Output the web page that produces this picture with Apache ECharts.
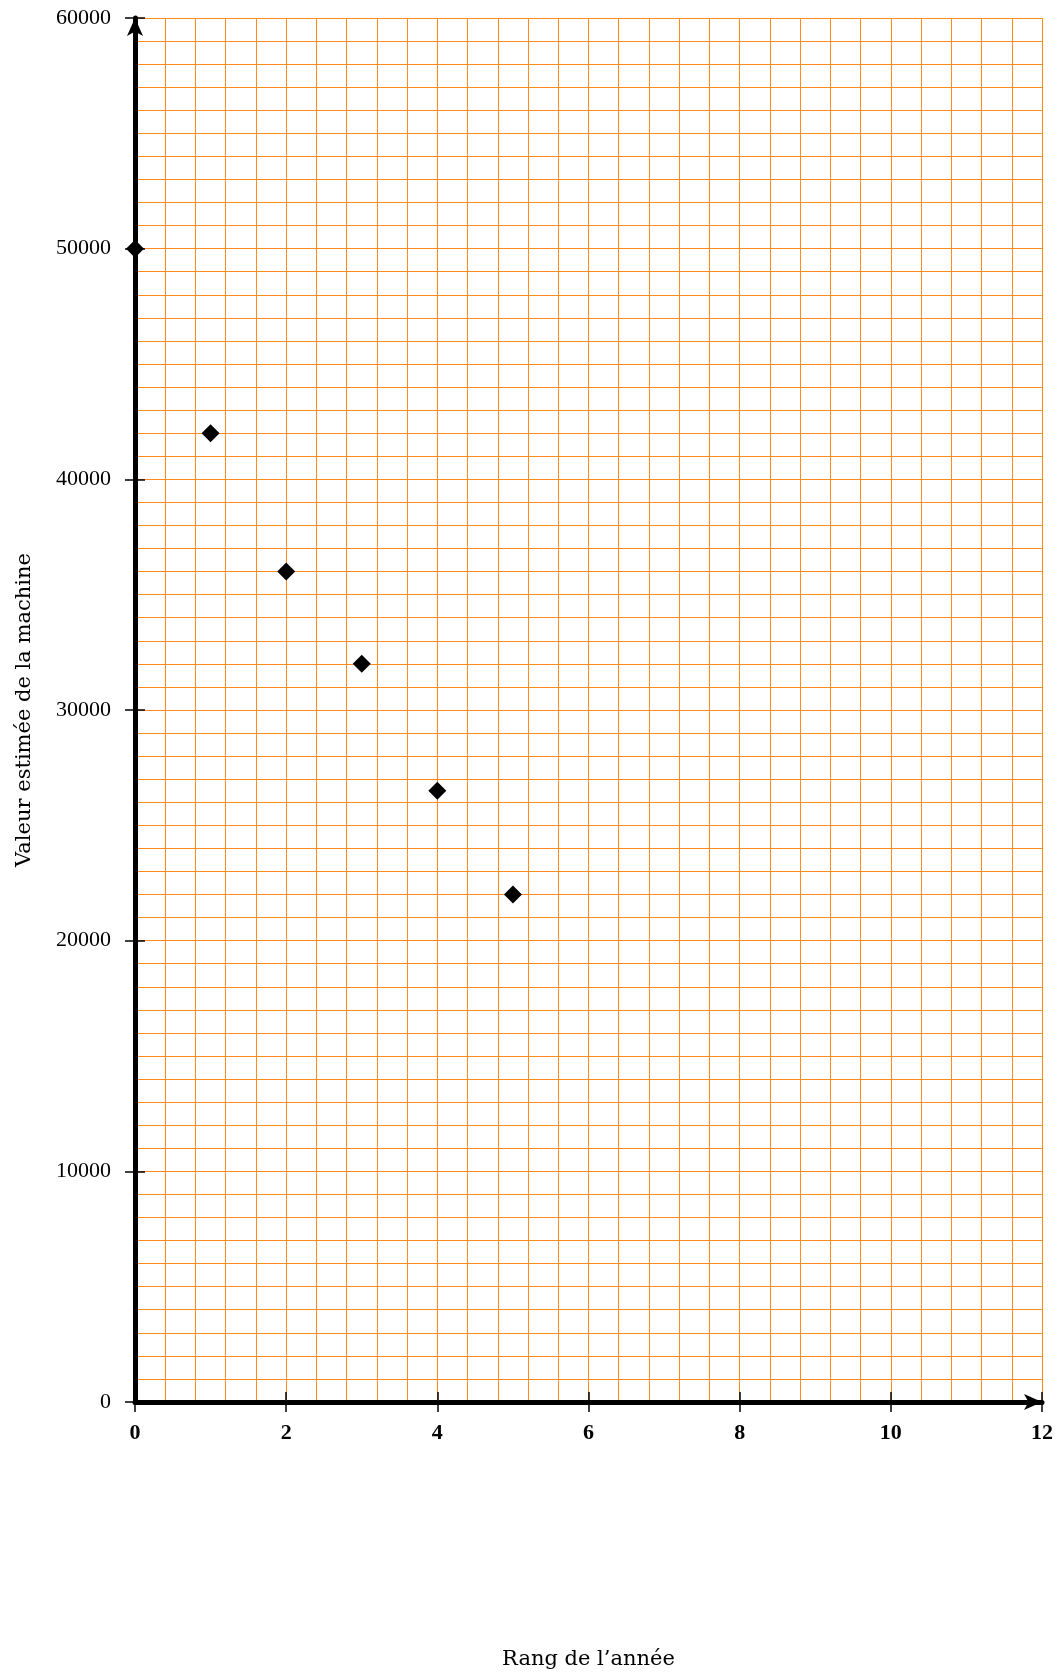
<!DOCTYPE html>
<html><head><meta charset="utf-8">
<script src="https://cdn.jsdelivr.net/npm/echarts@6/dist/echarts.min.js"></script>
<style>html,body{margin:0;padding:0;background:#fff}#c{width:1059px;height:1675px}</style>
</head><body><div id="c"></div>
<script>
// Data
const years = [0, 1, 2, 3, 4, 5];
const values = [50000, 42000, 36000, 32000, 26500, 22000];
const xRange = [0, 12];      // x axis min / max
const xStep = 2;             // labelled tick step
const yRange = [0, 60000];   // y axis min / max
const yStep = 10000;         // labelled tick step
const xName = 'Rang de l\u2019ann\u00e9e';
const yName = 'Valeur estim\u00e9e de la machine';

const FONT = '"Liberation Serif", "DejaVu Serif", serif';
const NAMEFONT = '"DejaVu Serif", "Liberation Serif", serif';
const GRID = '#ff8c1a';

const points = years.map((x, i) => [x, values[i]]);

const chart = echarts.init(document.getElementById('c'), null, {renderer: 'canvas'});

function mainAxis(opts) {
  return Object.assign({
    type: 'value',
    axisLine: {show: true, onZero: false, lineStyle: {color: '#000', width: 5},
      symbol: ['none', 'arrow'], symbolSize: [12, 18]},
    axisTick: {show: true, length: 10, lineStyle: {color: '#000', width: 1.5}},
    splitLine: {show: true, lineStyle: {color: GRID, width: 1}},
    minorSplitLine: {show: true, lineStyle: {color: GRID, width: 1}},
    nameLocation: 'middle',
    nameTextStyle: {color: '#000', fontFamily: NAMEFONT, fontSize: 21}
  }, opts);
}
function innerAxis(opts) {
  return Object.assign({
    type: 'value',
    axisLine: {show: false, onZero: false},
    axisTick: {show: true, inside: true, length: 10, lineStyle: {color: '#000', width: 1.5}},
    axisLabel: {show: false},
    splitLine: {show: false}
  }, opts);
}
const plain = v => String(v);

chart.setOption({
  backgroundColor: '#fff',
  animation: false,
  grid: {left: 135, right: 17, top: 18, bottom: 273, containLabel: false},
  xAxis: [
    mainAxis({min: xRange[0], max: xRange[1], interval: xStep, position: 'bottom',
      minorTick: {show: false, splitNumber: 5},
      axisLabel: {color: '#000', fontFamily: FONT, fontSize: 22, fontWeight: 'bold', margin: 20, formatter: plain},
      name: xName, nameGap: 247}),
    innerAxis({min: xRange[0], max: xRange[1], interval: xStep, position: 'bottom'})
  ],
  yAxis: [
    mainAxis({min: yRange[0], max: yRange[1], interval: yStep, position: 'left',
      minorTick: {show: false, splitNumber: 10},
      axisLabel: {color: '#000', fontFamily: FONT, fontSize: 22, margin: 24, formatter: plain},
      name: yName, nameGap: 100}),
    innerAxis({min: yRange[0], max: yRange[1], interval: yStep, position: 'left'})
  ],
  series: [{
    type: 'scatter',
    xAxisIndex: 0, yAxisIndex: 0,
    data: points,
    symbol: 'diamond',
    symbolSize: 18,
    clip: false,
    z: 10,
    itemStyle: {color: '#000', opacity: 1}
  }]
});
</script></body></html>
